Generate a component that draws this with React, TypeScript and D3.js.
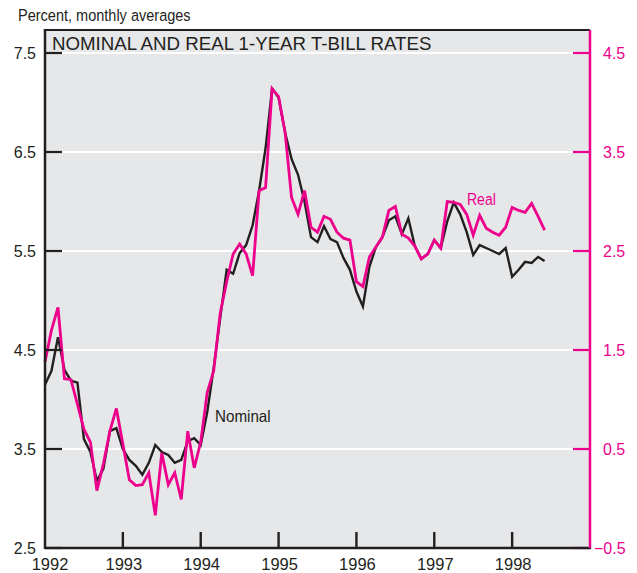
import React from "react";
import * as d3 from "d3";

// monthly averages, Jan 1992 .. Jun 1998
const startYear = 1992;
const nominal = [
  4.15, 4.29, 4.63, 4.3, 4.19, 4.17, 3.6, 3.47, 3.18, 3.3, 3.68, 3.71,
  3.5, 3.39, 3.33, 3.24, 3.36, 3.54, 3.47, 3.44, 3.36, 3.39, 3.58, 3.61,
  3.54, 3.87, 4.32, 4.82, 5.31, 5.27, 5.48, 5.56, 5.76, 6.11, 6.54, 7.14,
  7.05, 6.7, 6.43, 6.27, 6.0, 5.64, 5.59, 5.75, 5.62, 5.59, 5.43, 5.31,
  5.09, 4.94, 5.34, 5.54, 5.64, 5.81, 5.85, 5.67, 5.83, 5.55, 5.42, 5.47,
  5.61, 5.53, 5.8, 5.99, 5.87, 5.69, 5.46, 5.56, 5.53, 5.5, 5.47, 5.53,
  5.24, 5.31, 5.39, 5.38, 5.44, 5.4,
];
const real = [
  1.38, 1.7, 1.93, 1.21, 1.2, 0.95, 0.7, 0.57, 0.08, 0.35, 0.68, 0.91,
  0.55, 0.19, 0.13, 0.14, 0.26, -0.17, 0.46, 0.14, 0.26, -0.01, 0.68, 0.31,
  0.57, 1.07, 1.29, 1.87, 2.19, 2.47, 2.57, 2.47, 2.25, 3.11, 3.14, 4.14,
  4.06, 3.7, 3.04, 2.87, 3.11, 2.74, 2.69, 2.85, 2.82, 2.69, 2.63, 2.61,
  2.19, 2.14, 2.44, 2.54, 2.64, 2.91, 2.95, 2.67, 2.63, 2.55, 2.42, 2.47,
  2.61, 2.53, 3.0, 2.99, 2.97, 2.87, 2.66, 2.86, 2.73, 2.69, 2.66, 2.74,
  2.94, 2.91, 2.89, 2.98, 2.85, 2.71,
];
const years = [1992, 1993, 1994, 1995, 1996, 1997, 1998];
const leftTicks = [2.5, 3.5, 4.5, 5.5, 6.5, 7.5];
const rightTicks = [-0.5, 0.5, 1.5, 2.5, 3.5, 4.5];

const W = 637;
const H = 573;
const left = 45;
const right = 590;
const top = 30;
const bottom = 548;

const INK = "#231f20";
const MAGENTA = "#ec008c";
const BG = "#e6e7e9";
const sans = "'Liberation Sans', Arial, Helvetica, sans-serif";

// condensed look: squeeze the glyphs horizontally around the anchor point
function Squeezed(props: { x: number; y: number; k: number; size: number; fill: string; children: React.ReactNode }) {
  return (
    <text
      transform={`translate(${props.x},${props.y}) scale(${props.k},1)`}
      fontFamily={sans}
      fontSize={props.size}
      fill={props.fill}
    >
      {props.children}
    </text>
  );
}

export default function App() {
  const x = d3.scaleLinear().domain([0, 84]).range([left, right]);
  const yL = d3.scaleLinear().domain([2.5, 7.5]).range([bottom, 53]);
  const yR = d3.scaleLinear().domain([-0.5, 4.5]).range([bottom, 53]);

  const nomLine = d3.line<number>().x((_, i) => x(i)).y((d) => yL(d));
  const realLine = d3.line<number>().x((_, i) => x(i)).y((d) => yR(d));

  const fmt = (v: number) => (v < 0 ? "\u2212" + Math.abs(v).toFixed(1) : v.toFixed(1));

  return (
    <div style={{ position: "absolute", left: 0, top: 0 }}>
      <svg width={W} height={H} style={{ display: "block", background: "#fff" }}>
        <rect x={left} y={top} width={right - left} height={bottom - top} fill={BG} />

        {/* gridlines */}
        {leftTicks.slice(1).map((t) => (
          <line key={"g" + t} x1={left} x2={right} y1={yL(t)} y2={yL(t)} stroke="#fff" strokeWidth={2} />
        ))}

        {/* title */}
        <text x={52} y={50} fontFamily={sans} fontSize={18.7} fill={INK}>
          NOMINAL AND REAL 1-YEAR T-BILL RATES
        </text>
        <Squeezed x={18} y={21} k={0.88} size={16.5} fill={INK}>
          Percent, monthly averages
        </Squeezed>

        {/* series */}
        <path d={nomLine(nominal) || ""} fill="none" stroke={INK} strokeWidth={2.4} strokeLinejoin="miter" />
        <path d={realLine(real) || ""} fill="none" stroke={MAGENTA} strokeWidth={2.8} strokeLinejoin="miter" />

        <Squeezed x={215} y={422} k={0.92} size={16.5} fill={INK}>Nominal</Squeezed>
        <Squeezed x={467} y={205} k={0.85} size={16.5} fill={MAGENTA}>Real</Squeezed>

        {/* left axis */}
        {leftTicks.map((t) => (
          <g key={"l" + t}>
            <line x1={left} x2={62} y1={yL(t)} y2={yL(t)} stroke={INK} strokeWidth={2.2} />
            <text x={36} y={yL(t)} dy="0.36em" textAnchor="end" fontFamily={sans} fontSize={16} fill={INK}>
              {fmt(t)}
            </text>
          </g>
        ))}

        {/* right axis */}
        {rightTicks.map((t) => (
          <g key={"r" + t}>
            <line x1={573} x2={right} y1={yR(t)} y2={yR(t)} stroke={MAGENTA} strokeWidth={2.2} />
            <text x={603} dx={t < 0 ? -9 : 0} y={yR(t)} dy="0.36em" fontFamily={sans} fontSize={16} fill={MAGENTA}>
              {fmt(t)}
            </text>
          </g>
        ))}

        {/* x axis */}
        {years.map((yr, k) => (
          <g key={yr}>
            {k > 0 && (
              <line x1={x((yr - startYear) * 12)} x2={x((yr - startYear) * 12)} y1={532} y2={bottom} stroke={INK} strokeWidth={2.4} />
            )}
            <text
              x={x((yr - startYear) * 12) + (k === 0 ? 5 : 1)}
              y={570}
              textAnchor="middle"
              fontFamily={sans}
              fontSize={16.5}
              fill={INK}
            >
              {yr}
            </text>
          </g>
        ))}

        {/* frame */}
        <line x1={left} x2={right} y1={top} y2={top} stroke={INK} strokeWidth={2} />
        <line x1={left} x2={right + 1} y1={bottom} y2={bottom} stroke={INK} strokeWidth={2.5} />
        <line x1={left} x2={left} y1={top - 1} y2={bottom + 1} stroke={INK} strokeWidth={2.5} />
        <line x1={right} x2={right} y1={top} y2={bottom} stroke={MAGENTA} strokeWidth={2.5} />
      </svg>
    </div>
  );
}
